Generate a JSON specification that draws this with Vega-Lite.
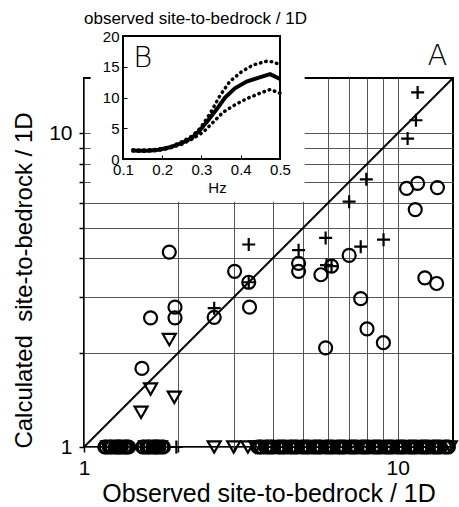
{
  "$schema": "https://vega.github.io/schema/vega-lite/v6.json",
  "width": 369,
  "height": 369,
  "autosize": {"type": "none"},
  "padding": {"left": 84, "top": 78, "right": 6, "bottom": 60},
  "background": "white",
  "config": {
    "view": {"stroke": "black", "strokeWidth": 2},
    "font": "Liberation Sans"
  },
  "datasets": {
    "diag": [{"x": 1, "y": 1}, {"x": 15, "y": 15}],
    "points": [
      {"x": 1.87, "y": 4.18, "type": "circle"},
      {"x": 3.02, "y": 3.63, "type": "circle"},
      {"x": 3.35, "y": 3.35, "type": "circle"},
      {"x": 3.37, "y": 2.79, "type": "circle"},
      {"x": 1.95, "y": 2.79, "type": "circle"},
      {"x": 1.95, "y": 2.58, "type": "circle"},
      {"x": 1.63, "y": 2.58, "type": "circle"},
      {"x": 2.6, "y": 2.59, "type": "circle"},
      {"x": 1.53, "y": 1.78, "type": "circle"},
      {"x": 10.67, "y": 6.67, "type": "circle"},
      {"x": 11.57, "y": 6.92, "type": "circle"},
      {"x": 13.38, "y": 6.71, "type": "circle"},
      {"x": 11.37, "y": 5.71, "type": "circle"},
      {"x": 7.0, "y": 4.08, "type": "circle"},
      {"x": 4.83, "y": 3.85, "type": "circle"},
      {"x": 4.83, "y": 3.63, "type": "circle"},
      {"x": 5.69, "y": 3.54, "type": "circle"},
      {"x": 6.15, "y": 3.77, "type": "circle"},
      {"x": 7.62, "y": 2.97, "type": "circle"},
      {"x": 7.98, "y": 2.38, "type": "circle"},
      {"x": 9.0, "y": 2.15, "type": "circle"},
      {"x": 5.89, "y": 2.07, "type": "circle"},
      {"x": 12.2, "y": 3.46, "type": "circle"},
      {"x": 13.3, "y": 3.32, "type": "circle"},
      {"x": 3.35, "y": 4.42, "type": "plus"},
      {"x": 3.35, "y": 3.35, "type": "plus"},
      {"x": 2.6, "y": 2.77, "type": "plus"},
      {"x": 11.57, "y": 13.49, "type": "plus"},
      {"x": 11.43, "y": 11.0, "type": "plus"},
      {"x": 10.75, "y": 9.62, "type": "plus"},
      {"x": 7.94, "y": 7.13, "type": "plus"},
      {"x": 7.0, "y": 6.05, "type": "plus"},
      {"x": 5.89, "y": 4.64, "type": "plus"},
      {"x": 4.83, "y": 4.24, "type": "plus"},
      {"x": 7.62, "y": 4.35, "type": "plus"},
      {"x": 9.01, "y": 4.58, "type": "plus"},
      {"x": 5.93, "y": 3.8, "type": "plus"},
      {"x": 6.15, "y": 3.77, "type": "plus"},
      {"x": 1.87, "y": 2.2, "type": "triangle"},
      {"x": 1.63, "y": 1.53, "type": "triangle"},
      {"x": 1.94, "y": 1.44, "type": "triangle"},
      {"x": 1.52, "y": 1.29, "type": "triangle"},
      {"x": 1.165, "y": 1, "type": "circle"},
      {"x": 1.178, "y": 1, "type": "circle"},
      {"x": 1.191, "y": 1, "type": "triangle"},
      {"x": 1.204, "y": 1, "type": "circle"},
      {"x": 1.217, "y": 1, "type": "circle"},
      {"x": 1.231, "y": 1, "type": "circle"},
      {"x": 1.245, "y": 1, "type": "plus"},
      {"x": 1.258, "y": 1, "type": "circle"},
      {"x": 1.272, "y": 1, "type": "circle"},
      {"x": 1.286, "y": 1, "type": "circle"},
      {"x": 1.3, "y": 1, "type": "circle"},
      {"x": 1.314, "y": 1, "type": "circle"},
      {"x": 1.329, "y": 1, "type": "triangle"},
      {"x": 1.343, "y": 1, "type": "circle"},
      {"x": 1.358, "y": 1, "type": "circle"},
      {"x": 1.373, "y": 1, "type": "circle"},
      {"x": 1.388, "y": 1, "type": "circle"},
      {"x": 1.537, "y": 1, "type": "circle"},
      {"x": 1.554, "y": 1, "type": "circle"},
      {"x": 1.571, "y": 1, "type": "triangle"},
      {"x": 1.588, "y": 1, "type": "circle"},
      {"x": 1.606, "y": 1, "type": "circle"},
      {"x": 1.623, "y": 1, "type": "circle"},
      {"x": 1.641, "y": 1, "type": "plus"},
      {"x": 1.659, "y": 1, "type": "circle"},
      {"x": 1.677, "y": 1, "type": "circle"},
      {"x": 1.695, "y": 1, "type": "circle"},
      {"x": 1.714, "y": 1, "type": "circle"},
      {"x": 1.733, "y": 1, "type": "circle"},
      {"x": 1.752, "y": 1, "type": "triangle"},
      {"x": 1.771, "y": 1, "type": "circle"},
      {"x": 1.791, "y": 1, "type": "circle"},
      {"x": 1.97, "y": 1, "type": "plus"},
      {"x": 2.6, "y": 1, "type": "triangle"},
      {"x": 3.0, "y": 1, "type": "triangle"},
      {"x": 3.33, "y": 1, "type": "triangle"},
      {"x": 3.528, "y": 1, "type": "triangle"},
      {"x": 3.58, "y": 1, "type": "circle"},
      {"x": 3.633, "y": 1, "type": "circle"},
      {"x": 3.686, "y": 1, "type": "circle"},
      {"x": 3.74, "y": 1, "type": "triangle"},
      {"x": 3.795, "y": 1, "type": "circle"},
      {"x": 3.851, "y": 1, "type": "circle"},
      {"x": 3.908, "y": 1, "type": "circle"},
      {"x": 3.965, "y": 1, "type": "circle"},
      {"x": 4.023, "y": 1, "type": "circle"},
      {"x": 4.083, "y": 1, "type": "plus"},
      {"x": 4.143, "y": 1, "type": "circle"},
      {"x": 4.202, "y": 1, "type": "circle"},
      {"x": 4.264, "y": 1, "type": "circle"},
      {"x": 4.327, "y": 1, "type": "circle"},
      {"x": 4.391, "y": 1, "type": "circle"},
      {"x": 4.455, "y": 1, "type": "triangle"},
      {"x": 4.52, "y": 1, "type": "circle"},
      {"x": 4.586, "y": 1, "type": "circle"},
      {"x": 4.653, "y": 1, "type": "circle"},
      {"x": 4.723, "y": 1, "type": "circle"},
      {"x": 4.792, "y": 1, "type": "circle"},
      {"x": 4.862, "y": 1, "type": "plus"},
      {"x": 4.933, "y": 1, "type": "circle"},
      {"x": 5.005, "y": 1, "type": "circle"},
      {"x": 5.079, "y": 1, "type": "circle"},
      {"x": 5.154, "y": 1, "type": "circle"},
      {"x": 5.23, "y": 1, "type": "circle"},
      {"x": 5.306, "y": 1, "type": "triangle"},
      {"x": 5.384, "y": 1, "type": "circle"},
      {"x": 5.462, "y": 1, "type": "circle"},
      {"x": 5.542, "y": 1, "type": "circle"},
      {"x": 5.624, "y": 1, "type": "circle"},
      {"x": 5.707, "y": 1, "type": "circle"},
      {"x": 5.791, "y": 1, "type": "plus"},
      {"x": 5.876, "y": 1, "type": "circle"},
      {"x": 5.961, "y": 1, "type": "circle"},
      {"x": 6.049, "y": 1, "type": "circle"},
      {"x": 6.138, "y": 1, "type": "circle"},
      {"x": 6.228, "y": 1, "type": "circle"},
      {"x": 6.32, "y": 1, "type": "triangle"},
      {"x": 6.413, "y": 1, "type": "circle"},
      {"x": 6.506, "y": 1, "type": "circle"},
      {"x": 6.602, "y": 1, "type": "circle"},
      {"x": 6.699, "y": 1, "type": "circle"},
      {"x": 6.797, "y": 1, "type": "circle"},
      {"x": 6.897, "y": 1, "type": "plus"},
      {"x": 6.998, "y": 1, "type": "circle"},
      {"x": 7.101, "y": 1, "type": "circle"},
      {"x": 7.205, "y": 1, "type": "circle"},
      {"x": 7.311, "y": 1, "type": "circle"},
      {"x": 7.418, "y": 1, "type": "circle"},
      {"x": 7.527, "y": 1, "type": "triangle"},
      {"x": 7.638, "y": 1, "type": "circle"},
      {"x": 7.749, "y": 1, "type": "circle"},
      {"x": 7.863, "y": 1, "type": "circle"},
      {"x": 7.979, "y": 1, "type": "circle"},
      {"x": 8.096, "y": 1, "type": "circle"},
      {"x": 8.214, "y": 1, "type": "plus"},
      {"x": 8.335, "y": 1, "type": "circle"},
      {"x": 8.457, "y": 1, "type": "circle"},
      {"x": 8.581, "y": 1, "type": "circle"},
      {"x": 8.707, "y": 1, "type": "circle"},
      {"x": 8.835, "y": 1, "type": "circle"},
      {"x": 8.965, "y": 1, "type": "triangle"},
      {"x": 9.097, "y": 1, "type": "circle"},
      {"x": 9.231, "y": 1, "type": "circle"},
      {"x": 9.367, "y": 1, "type": "circle"},
      {"x": 9.503, "y": 1, "type": "circle"},
      {"x": 9.643, "y": 1, "type": "circle"},
      {"x": 9.784, "y": 1, "type": "plus"},
      {"x": 9.928, "y": 1, "type": "circle"},
      {"x": 10.07, "y": 1, "type": "circle"},
      {"x": 10.22, "y": 1, "type": "circle"},
      {"x": 10.37, "y": 1, "type": "circle"},
      {"x": 10.52, "y": 1, "type": "circle"},
      {"x": 10.68, "y": 1, "type": "triangle"},
      {"x": 10.84, "y": 1, "type": "circle"},
      {"x": 10.99, "y": 1, "type": "circle"},
      {"x": 11.15, "y": 1, "type": "circle"},
      {"x": 11.32, "y": 1, "type": "circle"},
      {"x": 11.49, "y": 1, "type": "circle"},
      {"x": 11.65, "y": 1, "type": "plus"},
      {"x": 11.82, "y": 1, "type": "circle"},
      {"x": 12.0, "y": 1, "type": "circle"},
      {"x": 12.18, "y": 1, "type": "circle"},
      {"x": 12.35, "y": 1, "type": "circle"},
      {"x": 12.53, "y": 1, "type": "circle"},
      {"x": 12.72, "y": 1, "type": "triangle"},
      {"x": 12.91, "y": 1, "type": "circle"},
      {"x": 13.1, "y": 1, "type": "circle"},
      {"x": 13.29, "y": 1, "type": "circle"},
      {"x": 13.48, "y": 1, "type": "circle"},
      {"x": 13.68, "y": 1, "type": "circle"},
      {"x": 13.88, "y": 1, "type": "plus"},
      {"x": 14.08, "y": 1, "type": "circle"},
      {"x": 14.29, "y": 1, "type": "circle"},
      {"x": 14.5, "y": 1, "type": "circle"},
      {"x": 14.7, "y": 1, "type": "triangle"}
    ],
    "inset": [
      {"hz": 0.125, "v": 1.4, "series": "mean"},
      {"hz": 0.14, "v": 1.35, "series": "mean"},
      {"hz": 0.155, "v": 1.35, "series": "mean"},
      {"hz": 0.17, "v": 1.4, "series": "mean"},
      {"hz": 0.19, "v": 1.5, "series": "mean"},
      {"hz": 0.21, "v": 1.75, "series": "mean"},
      {"hz": 0.225, "v": 2.0, "series": "mean"},
      {"hz": 0.25, "v": 2.6, "series": "mean"},
      {"hz": 0.275, "v": 3.4, "series": "mean"},
      {"hz": 0.295, "v": 4.6, "series": "mean"},
      {"hz": 0.317, "v": 6.3, "series": "mean"},
      {"hz": 0.34, "v": 8.2, "series": "mean"},
      {"hz": 0.36, "v": 10.0, "series": "mean"},
      {"hz": 0.385, "v": 11.5, "series": "mean"},
      {"hz": 0.415, "v": 12.6, "series": "mean"},
      {"hz": 0.45, "v": 13.3, "series": "mean"},
      {"hz": 0.475, "v": 13.8, "series": "mean"},
      {"hz": 0.5, "v": 13.0, "series": "mean"},
      {"hz": 0.125, "v": 1.5, "series": "upper"},
      {"hz": 0.15, "v": 1.45, "series": "upper"},
      {"hz": 0.175, "v": 1.5, "series": "upper"},
      {"hz": 0.2, "v": 1.7, "series": "upper"},
      {"hz": 0.225, "v": 2.1, "series": "upper"},
      {"hz": 0.25, "v": 2.8, "series": "upper"},
      {"hz": 0.275, "v": 3.7, "series": "upper"},
      {"hz": 0.297, "v": 5.0, "series": "upper"},
      {"hz": 0.322, "v": 7.4, "series": "upper"},
      {"hz": 0.347, "v": 10.3, "series": "upper"},
      {"hz": 0.372, "v": 12.6, "series": "upper"},
      {"hz": 0.402, "v": 14.2, "series": "upper"},
      {"hz": 0.432, "v": 15.3, "series": "upper"},
      {"hz": 0.466, "v": 15.9, "series": "upper"},
      {"hz": 0.483, "v": 15.8, "series": "upper"},
      {"hz": 0.5, "v": 15.3, "series": "upper"},
      {"hz": 0.125, "v": 1.3, "series": "lower"},
      {"hz": 0.15, "v": 1.25, "series": "lower"},
      {"hz": 0.175, "v": 1.3, "series": "lower"},
      {"hz": 0.2, "v": 1.5, "series": "lower"},
      {"hz": 0.225, "v": 1.9, "series": "lower"},
      {"hz": 0.25, "v": 2.4, "series": "lower"},
      {"hz": 0.275, "v": 3.2, "series": "lower"},
      {"hz": 0.305, "v": 4.4, "series": "lower"},
      {"hz": 0.33, "v": 6.0, "series": "lower"},
      {"hz": 0.355, "v": 7.6, "series": "lower"},
      {"hz": 0.385, "v": 8.8, "series": "lower"},
      {"hz": 0.415, "v": 9.8, "series": "lower"},
      {"hz": 0.449, "v": 10.7, "series": "lower"},
      {"hz": 0.475, "v": 11.3, "series": "lower"},
      {"hz": 0.5, "v": 10.7, "series": "lower"}
    ]
  },
  "layer": [
    {
      "layer": [
        {
          "data": {"name": "diag"},
          "mark": {"type": "line", "stroke": "black", "strokeWidth": 2},
          "encoding": {
            "x": {
              "field": "x", "type": "quantitative",
              "scale": {"type": "log", "domain": [1, 15], "nice": false},
              "axis": {
                "orient": "bottom",
                "values": [1, 2, 3, 4, 5, 6, 7, 8, 9, 10],
                "labelExpr": "(datum.value == 1 || datum.value == 10) ? format(datum.value, 'd') : ''",
                "title": "Observed site-to-bedrock / 1D",
                "titleFontSize": 25, "titleFontWeight": "normal", "titleColor": "black", "titlePadding": 3,
                "labelFontSize": 21, "labelColor": "black", "labelPadding": 5, "labelFlush": false, "labelOverlap": false, "labelDx": 4,
                "grid": true, "gridColor": "#555555", "gridWidth": 1,
                "domain": false, "ticks": true, "tickColor": "black", "tickSize": 5, "tickWidth": 1.5,
                "zindex": 0
              }
            },
            "y": {
              "field": "y", "type": "quantitative",
              "scale": {"type": "log", "domain": [1, 15], "nice": false},
              "axis": {
                "orient": "left",
                "values": [1, 2, 3, 4, 5, 6, 7, 8, 9, 10],
                "labelExpr": "(datum.value == 1 || datum.value == 10) ? format(datum.value, 'd') : ''",
                "title": "Calculated\u00a0 site-to-bedrock / 1D",
                "titleFontSize": 24, "titleFontWeight": "normal", "titleColor": "black", "titlePadding": 12, "titleY": 202,
                "labelFontSize": 21, "labelColor": "black", "labelPadding": 7, "labelOverlap": false, "labelFlush": false,
                "grid": true, "gridColor": "#555555", "gridWidth": 1,
                "domain": false, "ticks": true, "tickColor": "black", "tickSize": 5, "tickWidth": 1.5,
                "zindex": 0
              }
            }
          }
        },
        {
          "data": {"name": "points"},
          "mark": {"type": "point", "filled": false, "stroke": "black", "strokeWidth": 2.2, "size": 169, "opacity": 1},
          "encoding": {
            "x": {"field": "x", "type": "quantitative"},
            "y": {"field": "y", "type": "quantitative"},
            "shape": {
              "field": "type", "type": "nominal",
              "scale": {"domain": ["circle", "plus", "triangle"], "range": ["circle", "M-1,0H1M0,-1V1", "triangle-down"]},
              "legend": null
            }
          }
        },
        {
          "data": {"values": [{}]},
          "mark": {"type": "rect", "fill": "white", "stroke": null},
          "encoding": {
            "x": {"datum": 1.05, "type": "quantitative"},
            "x2": {"datum": 5.05},
            "y": {"datum": 6.05, "type": "quantitative"},
            "y2": {"datum": 16}
          }
        },
        {
          "data": {"values": [{}]},
          "mark": {"type": "text", "text": "A", "fontSize": 29, "align": "right", "baseline": "alphabetic", "color": "black", "font": "DejaVu Sans", "fontWeight": 200},
          "encoding": {
            "x": {"datum": 14.4, "type": "quantitative"},
            "y": {"datum": 16.5, "type": "quantitative"}
          }
        }
      ]
    },
    {
      "layer": [
        {
          "data": {"values": [{}]},
          "mark": {"type": "rect", "filled": false, "color": "black", "strokeWidth": 2},
          "encoding": {
            "x": {
              "datum": 0.1, "type": "quantitative",
              "scale": {"domain": [0.1, 0.5], "range": [39, 196], "nice": false, "zero": false},
              "axis": {
                "orient": "bottom", "offset": -288,
                "values": [0.1, 0.2, 0.3, 0.4, 0.5], "format": ".1f",
                "title": "Hz", "titleFontSize": 15, "titleFontWeight": "normal", "titleColor": "black", "titlePadding": 3, "titleX": 133,
                "labelFontSize": 15, "labelColor": "black", "labelPadding": 7, "labelFlush": false, "labelOverlap": false,
                "grid": false, "domain": false, "tickColor": "black", "tickSize": -4, "tickWidth": 1,
                "zindex": 1
              }
            },
            "x2": {"datum": 0.5},
            "y": {
              "datum": 0, "type": "quantitative",
              "scale": {"domain": [0, 20], "range": [81, -42], "nice": false, "zero": false},
              "axis": {
                "orient": "left", "offset": -39,
                "values": [0, 5, 10, 15, 20],
                "title": null,
                "labelFontSize": 15, "labelColor": "black", "labelPadding": 8, "labelOverlap": false, "labelFlush": false,
                "grid": false, "domain": false, "tickColor": "black", "tickSize": -4, "tickWidth": 1,
                "zindex": 1
              }
            },
            "y2": {"datum": 20}
          }
        },
        {
          "data": {"name": "inset"},
          "transform": [{"filter": "datum.series == 'mean'"}],
          "mark": {"type": "line", "stroke": "black", "strokeWidth": 4},
          "encoding": {
            "x": {
              "field": "hz", "type": "quantitative",
              "axis": {
                "orient": "top", "offset": 42,
                "labels": false, "ticks": false, "domain": false, "grid": false,
                "title": "observed site-to-bedrock / 1D", "titleFontSize": 17, "titleFontWeight": "normal", "titleColor": "black", "titlePadding": 9, "titleX": 111,
                "zindex": 1
              }
            },
            "y": {"field": "v", "type": "quantitative", "axis": null}
          }
        },
        {
          "data": {"name": "inset"},
          "transform": [{"filter": "datum.series != 'mean'"}],
          "mark": {"type": "line", "stroke": "black", "strokeWidth": 3.5, "strokeDash": [0.5, 5], "strokeCap": "round"},
          "encoding": {
            "x": {"field": "hz", "type": "quantitative", "axis": null},
            "y": {"field": "v", "type": "quantitative", "axis": null},
            "detail": {"field": "series"}
          }
        },
        {
          "data": {"values": [{}]},
          "mark": {"type": "text", "text": "B", "fontSize": 29, "align": "left", "baseline": "alphabetic", "color": "black", "font": "DejaVu Sans", "fontWeight": 200},
          "encoding": {
            "x": {"datum": 0.126, "type": "quantitative", "axis": null},
            "y": {"datum": 15, "type": "quantitative", "axis": null}
          }
        }
      ],
      "resolve": {"axis": {"x": "independent", "y": "independent"}}
    }
  ],
  "resolve": {
    "scale": {"x": "independent", "y": "independent"},
    "axis": {"x": "independent", "y": "independent"}
  }
}
